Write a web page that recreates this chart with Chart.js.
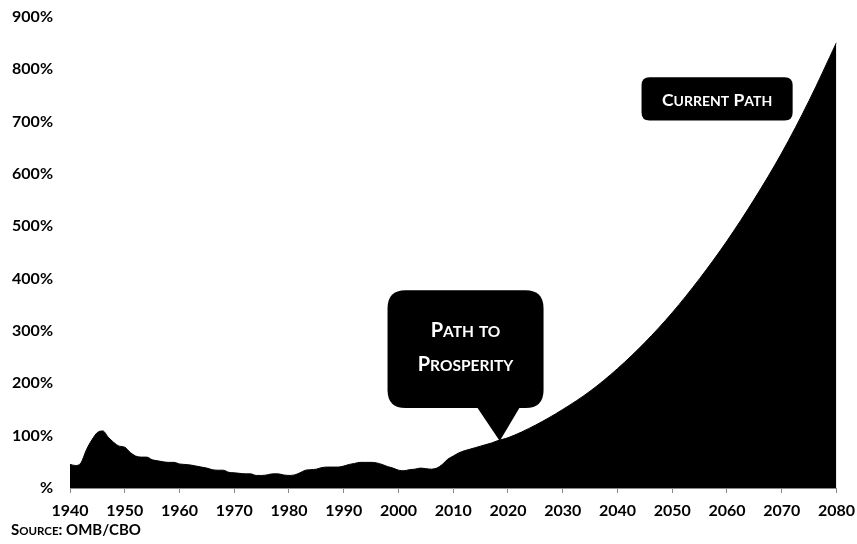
<!DOCTYPE html>
<html>
<head>
<meta charset="utf-8">
<script src="https://cdn.jsdelivr.net/npm/chart.js@4"></script>
<style>
body{margin:0;background:#fff}
#wrap{width:857px;height:544px;position:relative}
</style>
</head>
<body>
<div id="wrap"><canvas id="myChart"></canvas></div>
<script>
//DATA
const years=[1940,1941,1942,1943,1944,1945,1946,1947,1948,1949,
  1950,1951,1952,1953,1954,1955,1956,1957,1958,1959,
  1960,1961,1962,1963,1964,1965,1966,1967,1968,1969,
  1970,1971,1972,1973,1974,1975,1976,1977,1978,1979,
  1980,1981,1982,1983,1984,1985,1986,1987,1988,1989,
  1990,1991,1992,1993,1994,1995,1996,1997,1998,1999,
  2000,2001,2002,2003,2004,2005,2006,2007,2008,2009,
  2010,2011,2012,2013,2014,2015,2016,2017,2018,2019,
  2020,2025,2030,2035,2040,2045,2050,2055,2060,2065,2070,2075,2080]
const debtPct=[45,43,48,73,92,106,109,97,87,80,
  78,68,61,59,59,54,52,50,49,49,
  46,45,44,42,40,38,35,34,34,30,
  29,28,27,27,24,24,25,27,27,25,
  24,25,29,34,35,36,39,40,40,40,
  42,45,47,49,49,49,48,45,41,38,
  34,33,35,36,38,37,36,38,45,55,
  61,67,71,74,77,80,83,86,90,93,
  96,120,150,185,228,278,335,400,472,552,640,740,851]
const yTicks=[0,100,200,300,400,500,600,700,800,900]
const sourceText="Source: OMB/CBO"

//CALLOUTS (data units)
const pathBox={x0:1998,x1:2026.5,y0:378,y1:153,tipX:2018.5,tipY:90,baseX0:2014.2,baseX1:2022.3,lines:["Path to","Prosperity"],lineY:[302,236]}
const currentBox={x0:2044.4,x1:2072,y0:785,y1:702,lines:["Current Path"],lineY:[742]}

const FONT="Lato, 'Open Sans', sans-serif"

//FUNCIONES
function smallCapsRuns(text,big,small){
  // lowercase letters are drawn as smaller capitals
  const runs=[]
  for(const ch of text){
    const isSmall=ch!==ch.toUpperCase()
    const size=isSmall?small:big
    const last=runs[runs.length-1]
    if(last && last.size===size){last.t+=ch.toUpperCase()}
    else runs.push({t:ch.toUpperCase(),size})
  }
  return runs
}

function drawSmallCaps(ctx,text,x,y,big,small,align,color){
  const runs=smallCapsRuns(text,big,small)
  let w=0
  runs.forEach(r=>{ctx.font="bold "+r.size+"px "+FONT;r.w=ctx.measureText(r.t).width;w+=r.w})
  let cx=align==="center"?x-w/2:x
  ctx.fillStyle=color
  ctx.textAlign="left"
  ctx.textBaseline="alphabetic"
  runs.forEach(r=>{ctx.font="bold "+r.size+"px "+FONT;ctx.fillText(r.t,cx,y);cx+=r.w})
}

function roundRect(ctx,x0,y0,x1,y1,r){
  ctx.beginPath()
  ctx.moveTo(x0+r,y0)
  ctx.lineTo(x1-r,y0)
  ctx.quadraticCurveTo(x1,y0,x1,y0+r)
  ctx.lineTo(x1,y1-r)
  ctx.quadraticCurveTo(x1,y1,x1-r,y1)
  ctx.lineTo(x0+r,y1)
  ctx.quadraticCurveTo(x0,y1,x0,y1-r)
  ctx.lineTo(x0,y0+r)
  ctx.quadraticCurveTo(x0,y0,x0+r,y0)
  ctx.closePath()
}

const calloutPlugin={
  id:"callouts",
  afterDatasetsDraw(chart){
    const ctx=chart.ctx
    const xs=chart.scales.x, ys=chart.scales.y
    ctx.save()
    // path to prosperity
    const b=pathBox
    ctx.fillStyle="#000"
    roundRect(ctx,xs.getPixelForValue(b.x0),ys.getPixelForValue(b.y0),xs.getPixelForValue(b.x1),ys.getPixelForValue(b.y1),18)
    ctx.fill()
    ctx.beginPath()
    ctx.moveTo(xs.getPixelForValue(b.baseX0),ys.getPixelForValue(b.y1)-2)
    ctx.lineTo(xs.getPixelForValue(b.tipX),ys.getPixelForValue(b.tipY))
    ctx.lineTo(xs.getPixelForValue(b.baseX1),ys.getPixelForValue(b.y1)-2)
    ctx.closePath()
    ctx.fill()
    b.lines.forEach((t,i)=>drawSmallCaps(ctx,t,xs.getPixelForValue((b.x0+b.x1)/2),ys.getPixelForValue(b.lineY[i])+7,20,15.5,"center","#fff"))
    // current path
    const c=currentBox
    ctx.fillStyle="#000"
    roundRect(ctx,xs.getPixelForValue(c.x0),ys.getPixelForValue(c.y0),xs.getPixelForValue(c.x1),ys.getPixelForValue(c.y1),8)
    ctx.fill()
    c.lines.forEach((t,i)=>drawSmallCaps(ctx,t,xs.getPixelForValue((c.x0+c.x1)/2),ys.getPixelForValue(c.lineY[i])+6,17.5,14,"center","#fff"))
    // source
    drawSmallCaps(ctx,sourceText,11,535,15,11.5,"left","#000")
    ctx.restore()
  }
}

function renderGrafica(){
  const myChart=document.querySelector("#myChart")
  const data={
    datasets:[{
      data:years.map((yr,i)=>({x:yr,y:debtPct[i]})),
      borderColor:"#000",
      backgroundColor:"#000",
      borderWidth:1,
      fill:"origin",
      pointRadius:0,
      pointHoverRadius:0,
      cubicInterpolationMode:"monotone"
    }]
  }
  const config={
    type:"line",
    data,
    options:{
      responsive:true,
      maintainAspectRatio:false,
      animation:false,
      devicePixelRatio:1,
      layout:{padding:{left:0,right:0,top:17,bottom:15},autoPadding:false},
      plugins:{legend:{display:false},tooltip:{enabled:false}},
      scales:{
        x:{
          type:"linear",
          min:1940,max:2080,
          grid:{drawOnChartArea:false,drawTicks:true,tickLength:5,color:"#888"},
          border:{display:true,color:"#888",width:1,dash:[2,1]},
          ticks:{stepSize:10,padding:2,color:"#000",font:{family:FONT,size:16,weight:"bold",lineHeight:2},callback:v=>String(v),maxRotation:0}
        },
        y:{
          min:0,max:900,
          afterBuildTicks:axis=>{axis.ticks=yTicks.map(v=>({value:v}))},
          afterFit:axis=>{axis.width=70},
          grid:{display:true,drawOnChartArea:false,drawTicks:true,tickLength:17,color:"rgba(0,0,0,0)"},
          border:{display:false},
          ticks:{padding:0,color:"#000",font:{family:FONT,size:16,weight:"bold"},callback:v=>v===0?"%":v+"%"}
        }
      }
    },
    plugins:[calloutPlugin]
  }
  myChart.chart=new Chart(myChart,config)
}

renderGrafica()
</script>
</body>
</html>
